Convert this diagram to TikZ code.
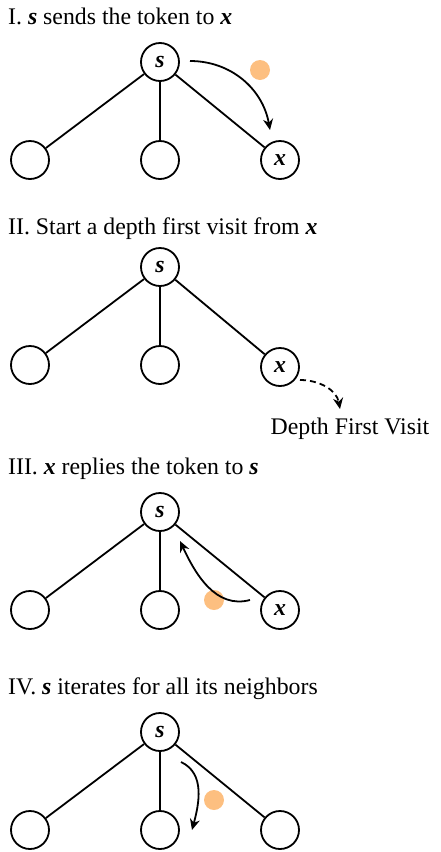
\documentclass[tikz,border=0pt]{standalone}
\usepackage{fontspec}
\setmainfont{Liberation Serif}
\usetikzlibrary{arrows.meta}
\definecolor{tokenorange}{HTML}{FDBF80}
\tikzset{
  vertex/.style={circle, draw, line width=1.8pt, minimum size=38pt, inner sep=0pt,
    font=\fontsize{23.8}{26}\selectfont\bfseries\itshape},
  edge/.style={line width=1.8pt},
  token/.style={circle, fill=tokenorange, minimum size=20pt, inner sep=0pt},
  move/.style={->, line width=1.8pt},
  heading/.style={anchor=base west, inner sep=0pt, font=\fontsize{23.8}{26}\selectfont},
}
\newcommand{\vs}{\textbf{\textit{s}}}
\newcommand{\vx}{\textbf{\textit{x}}}
\begin{document}
\begin{tikzpicture}[x=1pt, y=-1pt, >={Stealth[length=11pt, width=10pt]}, line join=round]
  \useasboundingbox (0,0) rectangle (441,852);

  % I. s sends the token to x
  \node[heading] (t1) at (8,24) {I. \vs{} sends the token to \vx};
  \node[vertex] (s1) at (160,62) {s};
  \node[vertex] (a1) at (30,160) {};
  \node[vertex] (b1) at (160,160) {};
  \node[vertex] (x1) at (280,160) {x};
  \draw[edge] (s1) -- (a1);
  \draw[edge] (s1) -- (b1);
  \draw[edge] (s1) -- (x1);
  \node[token] (k1) at (260,70) {};
  \coordinate (p1) at (190,61);
  \coordinate (q1) at (270,130);
  \draw[move] (p1) to[out=0, in=100] (q1);

  % II. Start a depth first visit from x
  \node[heading] (t2) at (8,234) {II. Start a depth first visit from \vx};
  \node[vertex] (s2) at (160,267) {s};
  \node[vertex] (a2) at (30,365) {};
  \node[vertex] (b2) at (160,365) {};
  \node[vertex] (x2) at (280,367) {x};
  \draw[edge] (s2) -- (a2);
  \draw[edge] (s2) -- (b2);
  \draw[edge] (s2) -- (x2);
  \node[anchor=base, inner sep=0pt, font=\fontsize{23.8}{26}\selectfont] (dfv) at (350,434) {Depth First Visit};
  \coordinate (p2) at (300,380);
  \coordinate (q2) at (340,409);
  \draw[move, dash pattern=on 6pt off 4pt] (p2) to[out=0, in=100] (q2);

  % III. x replies the token to s
  \node[heading] (t3) at (8,474) {III. \vx{} replies the token to \vs};
  \node[vertex] (s3) at (160,512) {s};
  \node[vertex] (a3) at (30,610) {};
  \node[vertex] (b3) at (160,610) {};
  \node[vertex] (x3) at (280,610) {x};
  \draw[edge] (s3) -- (a3);
  \draw[edge] (s3) -- (b3);
  \draw[edge] (s3) -- (x3);
  \node[token] (k3) at (214,600) {};
  \coordinate (p3) at (250,600);
  \coordinate (q3) at (180,541);
  \draw[move] (p3) to[out=195, in=-65] (q3);

  % IV. s iterates for all its neighbors
  \node[heading] (t4) at (8,694) {IV. \vs{} iterates for all its neighbors};
  \node[vertex] (s4) at (160,732) {s};
  \node[vertex] (a4) at (30,830) {};
  \node[vertex] (b4) at (160,830) {};
  \node[vertex] (c4) at (280,830) {};
  \draw[edge] (s4) -- (a4);
  \draw[edge] (s4) -- (b4);
  \draw[edge] (s4) -- (c4);
  \node[token] (k4) at (214,800) {};
  \coordinate (p4) at (181,762);
  \coordinate (q4) at (192,830);
  \draw[move] (p4) to[out=-25, in=75] (q4);
\end{tikzpicture}
\end{document}
